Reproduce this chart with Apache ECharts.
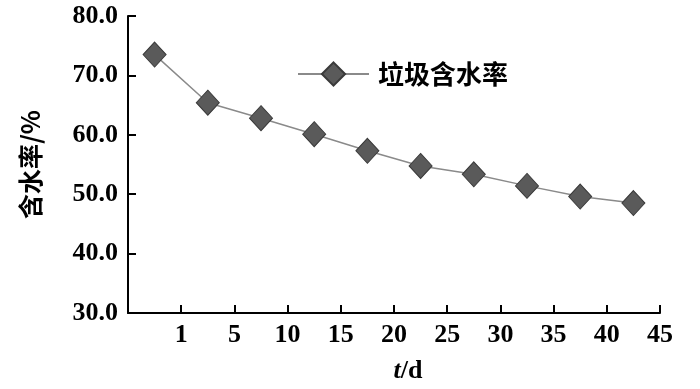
<!DOCTYPE html>
<html>
<head>
<meta charset="utf-8">
<script src="https://cdn.jsdelivr.net/npm/echarts@6/dist/echarts.min.js"></script>
<style>html,body{margin:0;padding:0;background:#fff;}#c{width:700px;height:389px;}</style>
</head>
<body>
<div id="c"></div>
<script>
var days = ['1', '5', '10', '15', '20', '25', '30', '35', '40', '45'];
var moisture = [73.5, 65.4, 62.8, 60.1, 57.3, 54.75, 53.35, 51.4, 49.6, 48.5];
var yTicks = [30, 40, 50, 60, 70, 80];
var seriesName = '垃圾含水率';

var numFont = { fontFamily: 'Liberation Serif', fontWeight: 'bold', fontSize: 26, color: '#000' };
var chart = echarts.init(document.getElementById('c'), null, { renderer: 'canvas' });
chart.setOption({
  backgroundColor: '#fff',
  animation: false,
  grid: { left: 128, right: 40, top: 16, bottom: 76 },
  legend: {
    left: 292, top: 56,
    itemWidth: 71, itemHeight: 29,
    data: [seriesName],
    textStyle: { fontFamily: 'Noto Sans CJK SC', fontWeight: 'bold', fontSize: 26, color: '#000', padding: [0, 0, 0, 4] }
  },
  xAxis: [{
    type: 'category', data: days, boundaryGap: true,
    axisLine: { show: true, lineStyle: { color: '#000', width: 2 } },
    axisTick: { show: false }, axisLabel: { show: false }, splitLine: { show: false }
  }, {
    type: 'category', data: [''].concat(days), boundaryGap: false, position: 'bottom',
    axisLine: { show: false },
    axisTick: { show: true, inside: true, length: 8, lineStyle: { color: '#000', width: 2 } },
    axisLabel: Object.assign({ margin: 9, interval: 0 }, numFont),
    splitLine: { show: false },
    name: '{i|t}/d', nameLocation: 'middle', nameGap: 45,
    nameTextStyle: Object.assign({}, numFont, { padding: [0, 0, 0, 28], rich: { i: { fontStyle: 'italic', fontFamily: 'Liberation Serif', fontWeight: 'bold', fontSize: 26 } } })
  }],
  yAxis: {
    type: 'value', min: yTicks[0], max: yTicks[yTicks.length - 1], interval: 10,
    axisLine: { show: true, lineStyle: { color: '#000', width: 2 } },
    axisTick: { show: true, inside: true, length: 8, lineStyle: { color: '#000', width: 2 } },
    axisLabel: Object.assign({ margin: 10, formatter: function (v) { return v.toFixed(1); } }, numFont),
    splitLine: { show: false },
    name: '含水率/%', nameLocation: 'middle', nameGap: 85, nameRotate: 90,
    nameTextStyle: { fontFamily: 'Noto Sans CJK SC', fontWeight: 'bold', fontSize: 25, color: '#000' }
  },
  series: [{
    name: seriesName, type: 'line', xAxisIndex: 0, data: moisture,
    symbol: 'diamond', symbolSize: [23, 25],
    lineStyle: { color: '#8a8a8a', width: 1.5 },
    itemStyle: { color: '#5a5a5a', borderColor: '#3a3a3a', borderWidth: 1 }
  }]
});
</script>
</body>
</html>
